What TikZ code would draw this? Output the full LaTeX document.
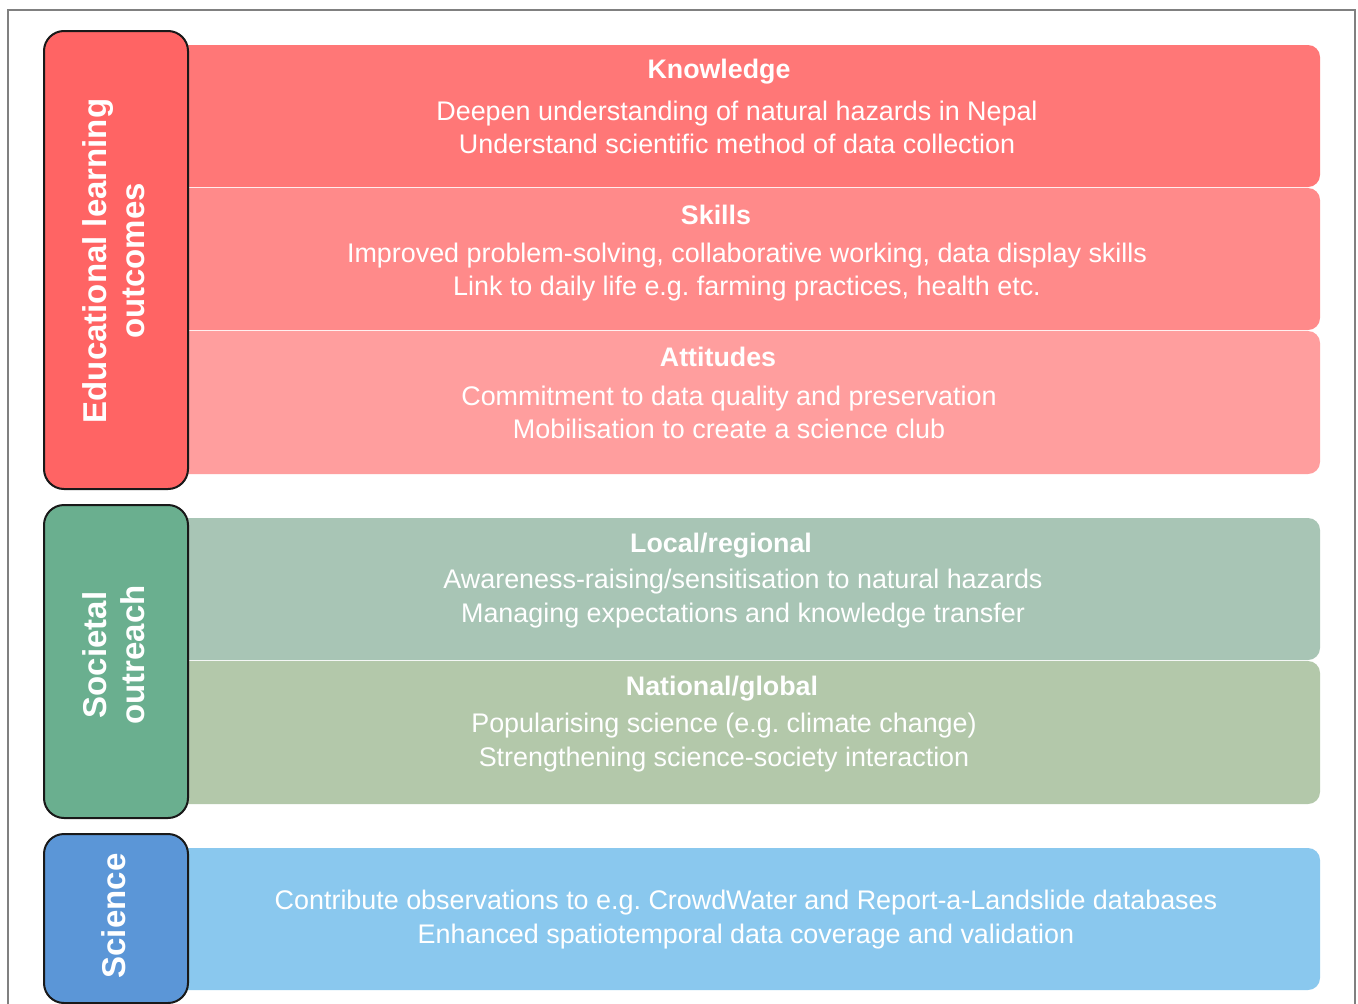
\documentclass[tikz,border=0pt]{standalone}
\usepackage{fontspec}
\setmainfont{Liberation Sans}
\definecolor{redlab}{HTML}{FF6464}
\definecolor{know}{HTML}{FF7777}
\definecolor{skill}{HTML}{FF8A8A}
\definecolor{attit}{HTML}{FF9E9E}
\definecolor{greenlab}{HTML}{6AAF8F}
\definecolor{local}{HTML}{A8C5B5}
\definecolor{natio}{HTML}{B3C8AA}
\definecolor{bluelab}{HTML}{5B96D7}
\definecolor{scib}{HTML}{8AC8EE}
\frenchspacing
\begin{document}
\begin{tikzpicture}[x=1pt,y=-1pt,
  band/.style={rounded corners=12pt},
  labbox/.style={draw=black!90,line width=2pt,rounded corners=20pt},
  ttl/.style={text=white,font=\fontsize{26.8}{30}\selectfont\bfseries,inner sep=0pt},
  body/.style={text=white,font=\fontsize{26.9}{33.7}\selectfont,align=center,inner sep=0pt},
  vlab/.style={text=white,font=\fontsize{33}{38}\selectfont\bfseries,align=center,rotate=90,inner sep=0pt}]
\useasboundingbox (0,0) rectangle (1358,1004);
\fill[white] (0,0) rectangle (1358,1004);
\draw[gray,line width=1.5pt] (8,1010) -- (8,10) -- (1355,10) -- (1355,1010);
% bands
\fill[know,band]  (150,45)  rectangle (1320,187);
\fill[skill,band] (150,188) rectangle (1320,330);
\fill[attit,band] (150,331) rectangle (1320,474);
\fill[local,band] (150,518) rectangle (1320,660);
\fill[natio,band] (150,661) rectangle (1320,804);
\fill[scib,band]  (150,848) rectangle (1320,990);
% band texts
\node[ttl] (kt) at (719,72) {Knowledge};
\node[body] (kb) at (737,127.5) {Deepen understanding of natural hazards in Nepal\\Understand scientific method of data collection};
\node[ttl] (st) at (716,214.5) {Skills};
\node[body] (sb) at (747,272) {Improved problem-solving, collaborative working, data display skills\\Link to daily life e.g. farming practices, health etc.};
\node[ttl] (at) at (718,356.5) {Attitudes};
\node[body] (ab) at (729,412.5) {Commitment to data quality and preservation\\Mobilisation to create a science club};
\node[ttl] (lt) at (721,546) {Local/regional};
\node[body] (lb) at (743,598.5) {Awareness-raising/sensitisation to natural hazards\\Managing expectations and knowledge transfer};
\node[ttl] (nt) at (722,689) {National/global};
\node[body] (nb) at (724,742.5) {Popularising science (e.g. climate change)\\Strengthening science-society interaction};
\node[body] (cb) at (746,919.5) {Contribute observations to e.g. CrowdWater and Report-a-Landslide databases\\Enhanced spatiotemporal data coverage and validation};
% label boxes
\filldraw[redlab,labbox] (44,31) rectangle (188,489);
\filldraw[greenlab,labbox] (44,505) rectangle (188,818);
\filldraw[bluelab,labbox] (44,834) rectangle (188,1003);
\node[vlab] (el) at (114,261) {Educational learning\\outcomes};
\node[vlab] (so) at (114,655) {Societal\\outreach};
\node[vlab] (sc) at (114,916) {Science};
\end{tikzpicture}
\end{document}
